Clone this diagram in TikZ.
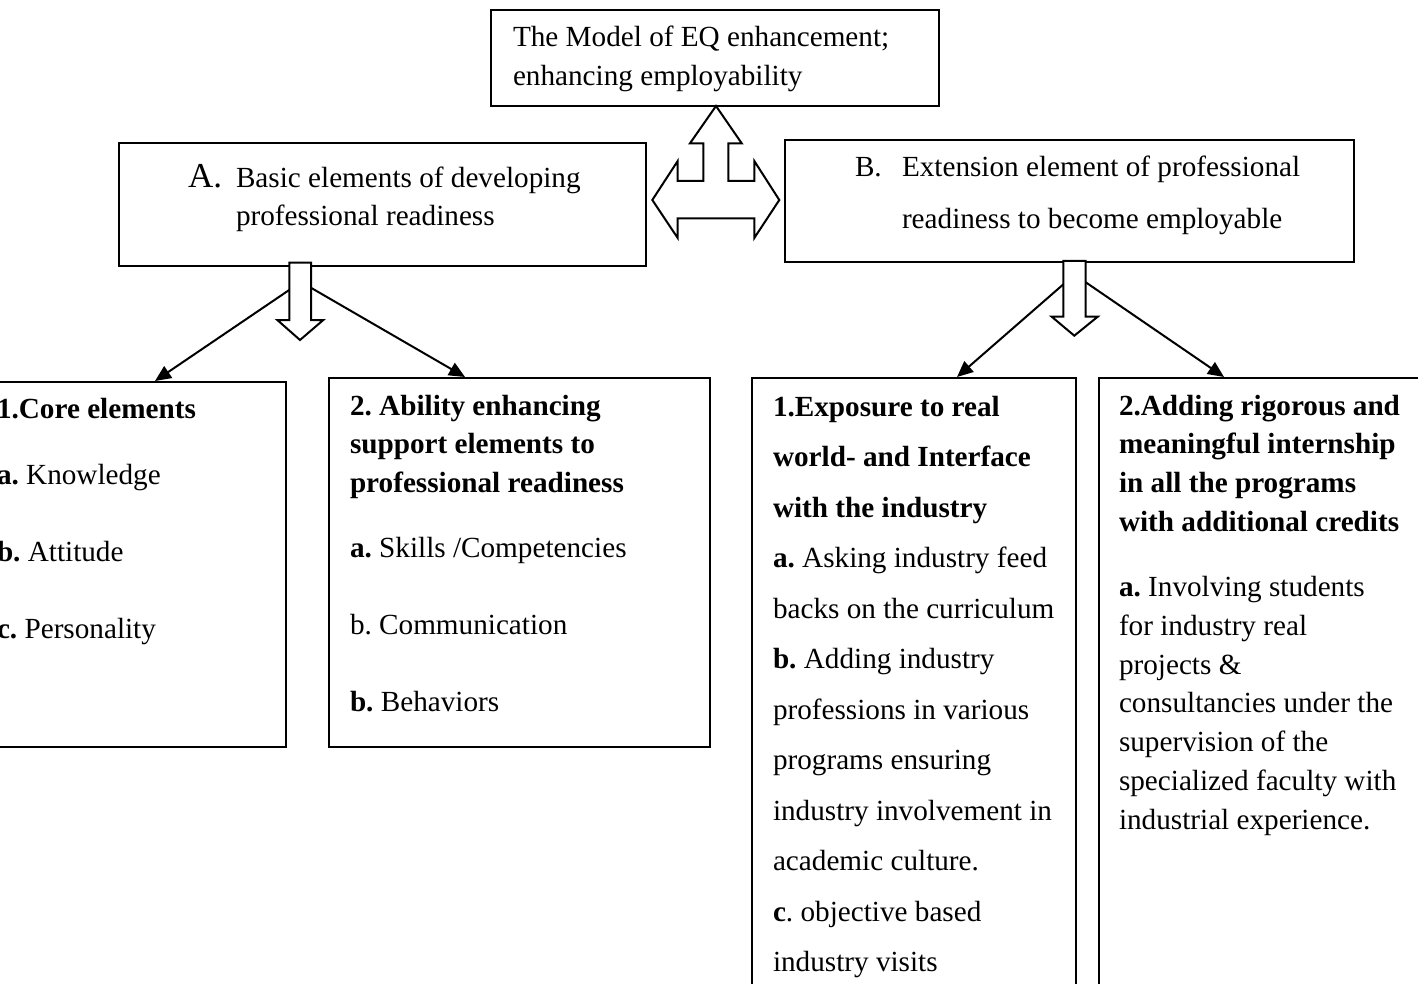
\documentclass[tikz,border=0pt]{standalone}
\usepackage{fontspec}
\setmainfont{Liberation Serif}
\usetikzlibrary{arrows.meta}
\usetikzlibrary{calc}

\frenchspacing
\newcommand{\celltext}[1]{\parbox[t]{300pt}{\raggedright #1}}

\begin{document}
\begin{tikzpicture}[x=0.5pt,y=-0.5pt,>={Triangle[length=8pt,width=7pt]},line width=1pt,
	box/.style={draw,rectangle,inner sep=0pt,anchor=north west},
	txt/.style={anchor=base west,inner sep=0pt,font=\fontsize{14.6}{19.4}\selectfont},
	wide txt/.style={txt,font=\fontsize{14.6}{25.25}\selectfont},
	hollow/.style={draw,fill=white,line join=miter}]

				\useasboundingbox (0,0) rectangle (1418,984);
				\clip (0,0) rectangle (1418,984);

				\node[box,minimum width=224pt,minimum height=48pt] (T) at (490,9) {};
				\node[box,minimum width=263.5pt,minimum height=61.5pt] (A) at (118,142) {};
				\node[box,minimum width=284.5pt,minimum height=61pt] (B) at (784,139) {};
				\node[box,minimum width=152.5pt,minimum height=182.5pt] (A1) at (-20,381) {};
				\node[box,minimum width=190.5pt,minimum height=184.5pt] (A2) at (328,377) {};
				\node[box,minimum width=162pt,minimum height=320pt] (B1) at (751,377) {};
				\node[box,minimum width=171pt,minimum height=320pt] (B2) at (1098,377) {};

				\node[txt] (Ttext) at (512,47) {\celltext{The Model of EQ enhancement;\\enhancing employability}};
				\node[txt,font=\fontsize{17.5}{20}\selectfont] (Alabel) at (187,188) {A.};
				\node[txt,font=\fontsize{14.6}{18.8}\selectfont] (Atext) at (235,188) {\celltext{Basic elements of developing\\professional readiness}};
				\node[txt] (Blabel) at (854,177) {B.};
				\node[txt,font=\fontsize{14.6}{25.5}\selectfont] (Btext) at (901,177) {\celltext{Extension element of professional\\readiness to become employable}};

				\node[txt] (A1text) at (-4,418) {\celltext{\textbf{1.Core elements}\\[13.6pt]
					\textbf{a.} Knowledge\\[19.1pt]
					\textbf{b.} Attitude\\[19.1pt]
					\textbf{c.} Personality}};
				\node[txt] (A2text) at (349,415) {\celltext{\textbf{2. Ability enhancing}\\
					\textbf{support elements to}\\
					\textbf{professional readiness}\\[13.1pt]
					\textbf{a.} Skills /Competencies\\[19.1pt]
					b. Communication\\[19.1pt]
					\textbf{b.} Behaviors}};
				\node[wide txt] (B1text) at (772,416) {\celltext{\textbf{1.Exposure to real}\\
					\textbf{world- and Interface}\\
					\textbf{with the industry}\\
					\textbf{a.} Asking industry feed\\
					backs on the curriculum\\
					\textbf{b.} Adding industry\\
					professions in various\\
					programs ensuring\\
					industry involvement in\\
					academic culture.\\
					\textbf{c}. objective based\\
					industry visits}};
				\node[txt] (B2text) at (1118,415) {\celltext{\textbf{2.Adding rigorous and}\\
					\textbf{meaningful internship}\\
					\textbf{in all the programs}\\
					\textbf{with additional credits}\\[13.1pt]
					\textbf{a.} Involving students\\
					for industry real\\
					projects \&\\
					consultancies under the\\
					supervision of the\\
					specialized faculty with\\
					industrial experience.}};

				\coordinate (Ahub) at (301,282);
				\coordinate (Bhub) at (1074.5,274.6);
				\coordinate (A1in) at (155,381);
				\coordinate (A2in) at (465,377);
				\coordinate (B1in) at (957,377);
				\coordinate (B2in) at (1224,377);

				\path[->]
				(Ahub) edge (A1in)
				(Ahub) edge (A2in)
				(Bhub) edge (B1in)
				(Bhub) edge (B2in);

				\draw[hollow] (289.3,262.7) -- (311,262.7) -- (311,320) -- (323.3,320) -- (300,340)
					-- (277.3,320) -- (289.3,320) -- cycle;
				\draw[hollow] (1063.3,261) -- (1085.7,261) -- (1085.7,316.7) -- (1097.7,316.7) -- (1074.3,335.7)
					-- (1051.7,316.7) -- (1063.3,316.7) -- cycle;

				\draw[hollow] (716,106) -- (741.7,143.3) -- (728.3,143.3) -- (728.3,181) -- (754.3,181)
					-- (754.3,161) -- (779.3,200) -- (754.3,238) -- (754.3,218.3) -- (677.7,218.3)
					-- (677.7,238) -- (652.3,200) -- (677.7,161) -- (677.7,181) -- (703.3,181)
					-- (703.3,143.3) -- (690,143.3) -- cycle;

\end{tikzpicture}
\end{document}
